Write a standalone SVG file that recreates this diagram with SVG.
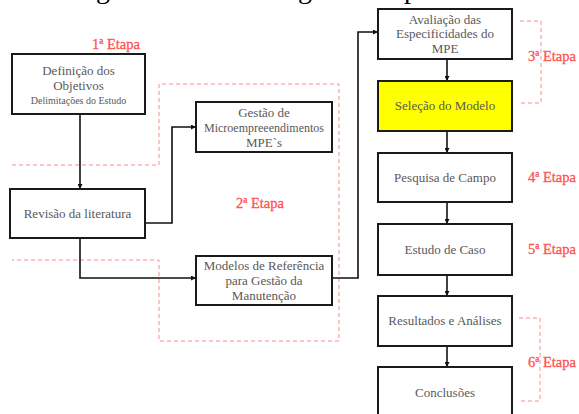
<svg xmlns="http://www.w3.org/2000/svg" width="579" height="414" viewBox="0 0 579 414">
  <style>
    .box { fill: #ffffff; stroke: #1a1a1a; stroke-width: 2; }
    .sel { fill: #ffff00; stroke: #1a1a1a; stroke-width: 2; }
    .lbl { font-family: "Liberation Serif", "Times New Roman", serif; font-size: 13px; fill: #595959; text-anchor: middle; }
    .stage { font-family: "Liberation Serif", "Times New Roman", serif; font-size: 14.5px; fill: #ff5252; stroke: #ff5252; stroke-width: 0.3; }
    .zone { fill: none; stroke: #ff8c8c; stroke-width: 1; stroke-dasharray: 4 3; }
    .conn { fill: none; stroke: #111111; stroke-width: 1.6; }
    .head { font-family: "Liberation Serif", "Times New Roman", serif; font-size: 28px; fill: #000000; }
  </style>
  <defs>
    <marker id="arrow" viewBox="0 0 8 8" refX="8" refY="4" markerWidth="5" markerHeight="5" markerUnits="userSpaceOnUse" orient="auto">
      <path d="M0,0 L8,4 L0,8 z" fill="#111111"/>
    </marker>
  </defs>

  <rect width="579" height="414" fill="#ffffff"/>

  <!-- heading line above the chart, mostly outside the frame -->
  <g id="heading">
    <text class="head" x="96" y="-2.5">g</text>
    <text class="head" x="298" y="-2.5">g</text>
    <text class="head" x="404" y="-2.5">p</text>
  </g>

  <!-- stage zones and brackets -->
  <g id="zones">
    <path class="zone" d="M12,165 H159 V84 H339 V341 H159 V260 H12"/>
    <path class="zone" d="M520,21 H541 V103 H520"/>
    <path class="zone" d="M519,318 H540 V401 H519"/>
  </g>

  <!-- connectors -->
  <g id="connectors">
    <path class="conn" d="M80,114 V189" marker-end="url(#arrow)"/>
    <path class="conn" d="M145,223 H172 V127 H196" marker-end="url(#arrow)"/>
    <path class="conn" d="M80,238 V278 H196" marker-end="url(#arrow)"/>
    <path class="conn" d="M332,278 H358 V32 H378" marker-end="url(#arrow)"/>
    <path class="conn" d="M447,59 V81" marker-end="url(#arrow)"/>
    <path class="conn" d="M447,131 V153" marker-end="url(#arrow)"/>
    <path class="conn" d="M447,202 V224" marker-end="url(#arrow)"/>
    <path class="conn" d="M447,275 V296" marker-end="url(#arrow)"/>
    <path class="conn" d="M447,346 V367" marker-end="url(#arrow)"/>
  </g>

  <g id="definicao">
    <rect class="box" x="12" y="54" width="133" height="60"/>
    <text class="lbl" x="78.5" y="75">Definição dos</text>
    <text class="lbl" x="78.5" y="90">Objetivos</text>
    <text class="lbl" x="78.5" y="104" style="font-size:10px">Delimitações do Estudo</text>
  </g>

  <g id="revisao">
    <rect class="box" x="10" y="189" width="135" height="49"/>
    <text class="lbl" x="77.5" y="218">Revisão da literatura</text>
  </g>

  <g id="gestao">
    <rect class="box" x="196" y="102" width="136" height="50"/>
    <text class="lbl" x="264" y="117">Gestão de</text>
    <text class="lbl" x="264" y="132" style="font-size:12px">Microempreeendimentos</text>
    <text class="lbl" x="264" y="147">MPE`s</text>
  </g>

  <g id="modelos">
    <rect class="box" x="196" y="256" width="136" height="49"/>
    <text class="lbl" x="264" y="270">Modelos de Referência</text>
    <text class="lbl" x="264" y="285">para Gestão da</text>
    <text class="lbl" x="264" y="300">Manutenção</text>
  </g>

  <g id="avaliacao">
    <rect class="box" x="378" y="9" width="134" height="50"/>
    <text class="lbl" x="445" y="24">Avaliação das</text>
    <text class="lbl" x="445" y="38">Especificidades do</text>
    <text class="lbl" x="445" y="53">MPE</text>
  </g>

  <g id="selecao">
    <rect class="sel" x="378" y="81" width="134" height="50"/>
    <text class="lbl" x="445" y="110">Seleção do Modelo</text>
  </g>

  <g id="pesquisa">
    <rect class="box" x="378" y="153" width="134" height="49"/>
    <text class="lbl" x="445" y="182">Pesquisa de Campo</text>
  </g>

  <g id="estudo">
    <rect class="box" x="378" y="224" width="134" height="51"/>
    <text class="lbl" x="445" y="254">Estudo de Caso</text>
  </g>

  <g id="resultados">
    <rect class="box" x="378" y="296" width="134" height="50"/>
    <text class="lbl" x="445" y="325">Resultados e Análises</text>
  </g>

  <g id="conclusoes">
    <rect class="box" x="378" y="367" width="134" height="60"/>
    <text class="lbl" x="445" y="397">Conclusões</text>
  </g>

  <!-- stage labels -->
  <g id="stages">
    <text class="stage" x="92" y="49">1ª Etapa</text>
    <text class="stage" x="236" y="208">2ª Etapa</text>
    <text class="stage" x="528" y="61">3ª Etapa</text>
    <text class="stage" x="528" y="182">4ª Etapa</text>
    <text class="stage" x="528" y="254">5ª Etapa</text>
    <text class="stage" x="528" y="367">6ª Etapa</text>
  </g>
</svg>
